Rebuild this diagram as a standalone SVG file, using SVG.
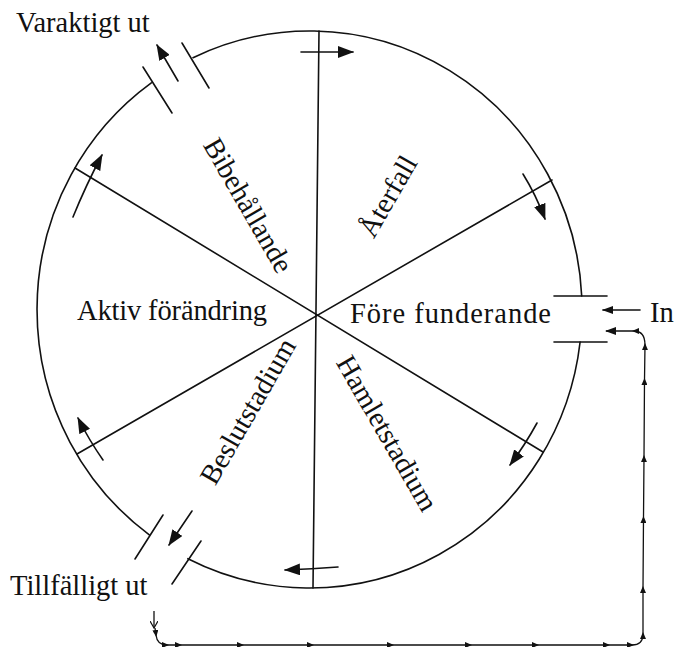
<svg xmlns="http://www.w3.org/2000/svg" width="674" height="647" viewBox="0 0 674 647">
<style>
.ln{fill:none;stroke:#111;stroke-width:1.6;stroke-linecap:round}
.thin{fill:none;stroke:#111;stroke-width:1.3}
text{font-family:"Liberation Serif","Times New Roman",serif;font-size:28.5px;fill:#111}
</style>
<defs>
<marker id="big" viewBox="0 0 16 12" markerWidth="16" markerHeight="12" refX="15" refY="6" orient="auto" markerUnits="userSpaceOnUse"><path d="M0,0 L16,6 L0,12 Z" fill="#111"/></marker>
<marker id="med" viewBox="0 0 11 8" markerWidth="11" markerHeight="8" refX="10" refY="4" orient="auto" markerUnits="userSpaceOnUse"><path d="M0,0 L11,4 L0,8 Z" fill="#111"/></marker>
<marker id="tiny" viewBox="0 0 7 6" markerWidth="7" markerHeight="6" refX="5" refY="3" orient="auto" markerUnits="userSpaceOnUse"><path d="M0,0 L7,3 L0,6 Z" fill="#111"/></marker>
<marker id="open" viewBox="0 0 8 8" markerWidth="8" markerHeight="8" refX="7" refY="4" orient="auto" markerUnits="userSpaceOnUse"><path d="M0,0 L7,4 L0,8" fill="none" stroke="#111" stroke-width="1.2"/></marker>
</defs>

<g id="wheel">
<path class="ln" d="M193,57.7 A272.5,278.5 0 0 1 581.7,296 M580.1,342 A272.5,278.5 0 0 1 187.9,558.7 M149.3,534.8 A272.5,278.5 0 0 1 151.3,82.8"/>
<line class="ln" x1="319" y1="31" x2="313" y2="588"/>
<line class="ln" x1="75" y1="168" x2="543" y2="452"/>
<line class="ln" x1="77" y1="454" x2="552" y2="180"/>
</g>

<g id="gate-varaktigt">
<line class="ln" x1="143" y1="67" x2="172" y2="113"/>
<line class="ln" x1="182" y1="43" x2="209" y2="88"/>
</g>
<g id="gate-tillfalligt">
<line class="ln" x1="163" y1="515" x2="135" y2="559"/>
<line class="ln" x1="201" y1="541" x2="172" y2="584"/>
</g>
<g id="gate-in">
<line class="ln" x1="554" y1="296" x2="607" y2="296"/>
<line class="ln" x1="554" y1="342" x2="607" y2="342"/>
</g>

<g id="sector-aterfall"><text transform="translate(396,201) rotate(-60)" text-anchor="middle">Återfall</text></g>
<g id="sector-fore"><text x="350" y="323" textLength="201" lengthAdjust="spacing">Före funderande</text></g>
<g id="sector-hamlet"><text transform="translate(379,438) rotate(60)" text-anchor="middle">Hamletstadium</text></g>
<g id="sector-beslut"><text transform="translate(256,416) rotate(-60)" text-anchor="middle">Beslutstadium</text></g>
<g id="sector-aktiv"><text x="77" y="320" textLength="190" lengthAdjust="spacing">Aktiv förändring</text></g>
<g id="sector-bibehallande"><text transform="translate(240,210) rotate(60)" text-anchor="middle">Bibehållande</text></g>
<g id="label-varaktigt"><text x="16" y="32">Varaktigt ut</text></g>
<g id="label-tillfalligt"><text x="10" y="595">Tillfälligt ut</text></g>
<g id="label-in"><text x="650" y="322">In</text></g>

<g id="connectors">
<path class="ln" d="M301,52 L353,52" marker-end="url(#big)"/>
<path class="ln" d="M523,174 Q536,195 545,219" marker-end="url(#big)"/>
<path class="ln" d="M537,423 Q525,445 510,465" marker-end="url(#big)"/>
<path class="ln" d="M338,567 Q312,569 285,570" marker-end="url(#big)"/>
<path class="ln" d="M103,460 Q89,440 78,418" marker-end="url(#big)"/>
<path class="ln" d="M73,217 Q86,185 102,155" marker-end="url(#big)"/>
<path class="ln" d="M178,81 L157,45" marker-end="url(#big)"/>
<path class="ln" d="M192,511 L169,545" marker-end="url(#big)"/>
<path class="ln" d="M640,310 L603,310" marker-end="url(#med)"/>
<path class="thin" d="M154,611 L154,628" marker-end="url(#open)"/>
<path class="thin" d="M155,628 L156,635 Q157,645 167,645 L180,645 L242,645 L312,645 L392,645 L470,645 L537,645 L608,645 L632,645 Q643,645 643,634 L643,588 L643.5,518 L644,457 L644.5,380 L645,345 Q645,331 634,331 L606,331" marker-mid="url(#tiny)" marker-end="url(#med)"/>
</g>
</svg>
